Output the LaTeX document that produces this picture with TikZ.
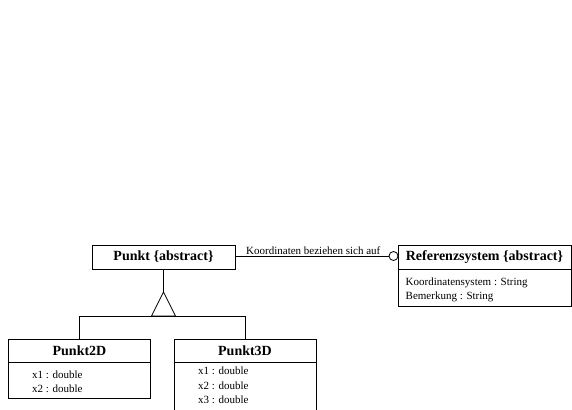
\documentclass[tikz,border=0pt]{standalone}
\usepackage{fontspec}
\setmainfont{Liberation Serif}
\begin{document}
\begin{tikzpicture}[x=1pt,y=-1pt,
  lw/.style={line width=0.8pt},
  hdr/.style={draw,lw,inner sep=0pt,outer sep=0pt,anchor=north west,font=\fontsize{14}{16}\selectfont\bfseries},
  abox/.style={draw,lw,inner sep=0pt,outer sep=0pt,anchor=north west},
  attr/.style={inner sep=0pt,anchor=west,font=\fontsize{11}{13}\selectfont},
  lbl/.style={inner sep=1pt,anchor=south west,font=\fontsize{11}{13}\selectfont}]
\useasboundingbox (0,0) rectangle (572,409);
\clip (0,0) rectangle (572,409);
% Punkt
\node[hdr,minimum width=143pt,minimum height=24pt] (punkt) at (92,245) {Punkt \{abstract\}};
% Referenzsystem
\node[hdr,minimum width=173pt,minimum height=24.5pt] (refhead) at (398,245) {Referenzsystem \{abstract\}};
\node[abox,minimum width=173pt,minimum height=36.5pt] (refattr) at (398,269.5) {};
\node[attr] (ra1) at (405.5,282.7) {Koordinatensystem : String};
\node[attr] (ra2) at (405.5,296.7) {Bemerkung : String};
% Punkt2D
\node[hdr,minimum width=142pt,minimum height=23.7pt] (p2d) at (8.5,339) {Punkt2D};
\node[abox,minimum width=142pt,minimum height=35.3pt] (p2dattr) at (8.5,362.7) {};
\node[attr] (p2a1) at (32,375) {x1 : double};
\node[attr] (p2a2) at (32,388.5) {x2 : double};
% Punkt3D
\node[hdr,minimum width=142pt,minimum height=23.7pt] (p3d) at (174,339) {Punkt3D};
\node[abox,minimum width=142pt,minimum height=60pt] (p3dattr) at (174,362.7) {};
\node[attr] (p3a1) at (198,371) {x1 : double};
\node[attr] (p3a2) at (198,385.5) {x2 : double};
\node[attr] (p3a3) at (198,400) {x3 : double};
% generalization
\coordinate (apex) at (163.5,292);
\coordinate (bl) at (151.5,316);
\coordinate (br) at (175.5,316);
\draw[lw] (punkt.south) -- (apex);
\draw[lw] (apex) -- (bl) -- (br) -- cycle;
\draw[lw] (p2d.north) -- (p2d.north |- bl) -- (p3d.north |- bl) -- (p3d.north);
% association
\coordinate (circ) at (393.5,256);
\draw[lw] (punkt.east |- circ) -- ([xshift=-4.5pt]circ);
\draw[lw] (circ) circle[radius=4.5pt];
\node[lbl] (assoc) at (245,255.5) {Koordinaten beziehen sich auf};
\end{tikzpicture}
\end{document}
